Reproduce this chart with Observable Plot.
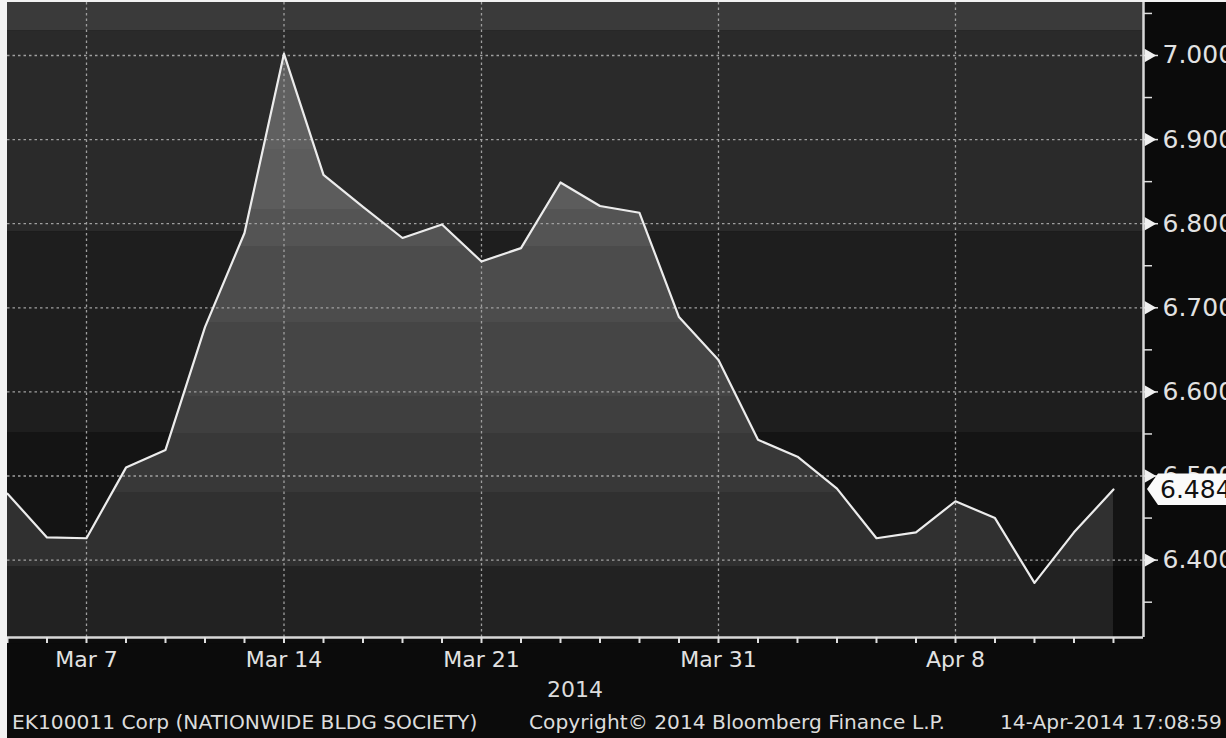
<!DOCTYPE html>
<html>
<head>
<meta charset="utf-8">
<script src="https://cdn.jsdelivr.net/npm/d3@7"></script>
<script src="https://cdn.jsdelivr.net/npm/@observablehq/plot@0.6"></script>
<style>
  html, body { margin: 0; padding: 0; background: #f2f2f2; width: 1226px; height: 738px; overflow: hidden; }
  #wrap { position: absolute; left: 7px; top: 2px; width: 1219px; height: 736px; background: #0b0b0b; overflow: hidden; font-family: "DejaVu Sans", sans-serif; color: #dcdcdc; }
  #chart { position: absolute; left: 0; top: 0; }
  .t { position: absolute; white-space: nowrap; color: #dcdcdc; }
</style>
</head>
<body>
<div id="wrap">
  <div id="chart"></div>
  <div class="t" id="year" style="left:568px; top:675px; font-size:22px; transform:translateX(-50%);">2014</div>
  <div class="t" style="left:5px; top:708px; font-size:20.2px;">EK100011 Corp (NATIONWIDE BLDG SOCIETY)</div>
  <div class="t" style="left:522px; top:708px; font-size:20.2px;">Copyright© 2014 Bloomberg Finance L.P.</div>
  <div class="t" style="left:993px; top:708px; font-size:20.2px;">14-Apr-2014 17:08:59</div>
</div>
<script>
// ---- data ----
const dates = ["2014-03-05","2014-03-06","2014-03-07","2014-03-10","2014-03-11","2014-03-12","2014-03-13","2014-03-14",
  "2014-03-17","2014-03-18","2014-03-19","2014-03-20","2014-03-21","2014-03-24","2014-03-25","2014-03-26","2014-03-27",
  "2014-03-28","2014-03-31","2014-04-01","2014-04-02","2014-04-03","2014-04-04","2014-04-07","2014-04-08","2014-04-09",
  "2014-04-10","2014-04-11","2014-04-14"];
const yields = [6.479,6.427,6.426,6.510,6.531,6.677,6.789,7.002,6.858,6.820,6.783,6.799,6.755,6.771,6.849,6.821,6.813,
  6.689,6.638,6.543,6.523,6.485,6.426,6.433,6.470,6.450,6.373,6.433,6.484];
const labelDates = ["2014-03-07","2014-03-14","2014-03-21","2014-03-31","2014-04-08"];
const labelTexts = ["Mar 7","Mar 14","Mar 21","Mar 31","Apr 8"];
const yTicks = [6.4,6.5,6.6,6.7,6.8,6.9,7.0];
const yMinorTicks = [6.35,6.45,6.55,6.65,6.75,6.85,6.95,7.05];
const lastValue = "6.484";

// background bands (value ranges) and shades
const bgBandLo = [7.029, 6.790, 6.551, 6.392, 6.30];
const bgBandHi = [7.07, 7.029, 6.790, 6.551, 6.392];
const bgBandColor = ["#3a3a3a", "#2a2a2a", "#1e1e1e", "#141414", "#0c0c0c"];
// area bands
const areaBandLo = [6.888, 6.817, 6.773, 6.682, 6.594, 6.551, 6.48, 6.392, 6.30];
const areaBandHi = [7.07, 6.888, 6.817, 6.773, 6.682, 6.594, 6.551, 6.48, 6.392];
const areaBandColor = ["#606060", "#5c5c5c", "#545454", "#4c4c4c", "#454545", "#3f3f3f", "#383838", "#303030", "#222222"];

const yDomain = [6.308, 7.063];
const xDomain = [0, 28.76];

const data = dates.map((d, i) => ({i, date: d, value: yields[i]}));
const labelIndex = labelDates.map(d => dates.indexOf(d));
const labelOf = new Map(labelIndex.map((k, j) => [k, labelTexts[j]]));
const bgBands = bgBandLo.map((lo, j) => ({lo, hi: bgBandHi[j], c: bgBandColor[j]}));

const W = 1219, mR = 83, mB = 45, H = 635 + mB;

const lastBox = (index, scales, values, dimensions) => {
  const g = d3.create("svg:g");
  const yv = scales.y(yields[yields.length - 1]);
  const ax = dimensions.width - dimensions.marginRight;
  const x0 = ax + 4, x1 = ax + 15, x2 = dimensions.width + 5;
  g.append("path")
    .attr("d", `M${x0},${yv} L${x1},${yv - 15.5} L${x2},${yv - 15.5} L${x2},${yv + 16} L${x1},${yv + 16} Z`)
    .attr("fill", "#fafafa");
  g.append("text")
    .attr("x", x1 + 2).attr("y", yv).attr("dy", "0.36em")
    .attr("text-anchor", "start")
    .attr("fill", "#111").attr("font-size", 25).attr("font-family", "DejaVu Sans, sans-serif")
    .text(lastValue);
  return g.node();
};

const chart = Plot.plot({
  width: W, height: H,
  marginLeft: 0, marginRight: mR, marginTop: 0, marginBottom: mB,
  style: {background: "transparent", color: "#e2e2e2", fontFamily: "DejaVu Sans, sans-serif"},
  x: {type: "linear", domain: xDomain},
  y: {domain: yDomain},
  marks: [
    Plot.rect(bgBands, {y1: "lo", y2: "hi", fill: "c"}),
    Plot.areaY(data, {x: "i", y1: () => yDomain[0], y2: "value", fill: "url(#areaGrad)"}),
    Plot.ruleY(yTicks, {stroke: "#a0a0a0", strokeWidth: 1.3, strokeDasharray: "2.5,3"}),
    Plot.ruleX(labelIndex, {stroke: "#a0a0a0", strokeWidth: 1.3, strokeDasharray: "2.5,3"}),
    Plot.line(data, {x: "i", y: "value", stroke: "#ececec", strokeWidth: 2.2}),
    Plot.ruleY([yDomain[0]], {stroke: "#d8d8d8", strokeWidth: 2.5}),
    Plot.ruleX([xDomain[1]], {stroke: "#d8d8d8", strokeWidth: 2.5}),
    Plot.axisX(d3.range(dates.length), {anchor: "bottom", label: null, tickSize: 6, tickPadding: 8, fontSize: 22,
      tickFormat: i => labelOf.get(i) ?? "", stroke: "#e0e0e0", strokeWidth: 2}),
    Plot.axisY(yMinorTicks, {anchor: "right", label: null, tickSize: 8, tickFormat: () => "", stroke: "#e0e0e0", strokeWidth: 1.5}),
    Plot.axisY(yTicks, {anchor: "right", label: null, tickSize: 14, tickPadding: 5, fontSize: 25,
      tickFormat: d3.format(".3f"), stroke: "#e0e0e0", strokeWidth: 1.5}),
    Plot.dot(yTicks, {y: d => d, frameAnchor: "right", symbol: "triangle", r: 5, rotate: 90, dx: 5, fill: "#f0f0f0", stroke: "none"}),
    lastBox
  ]
});

// banded gradient for the area, positioned with the y scale
const ys = chart.scale("y");
const yTop = ys.apply(yDomain[1]), yBot = ys.apply(yDomain[0]);
const off = v => Math.max(0, Math.min(1, (ys.apply(v) - yTop) / (yBot - yTop)));
const defs = d3.select(chart).insert("defs", ":first-child");
const grad = defs.append("linearGradient").attr("id", "areaGrad")
  .attr("gradientUnits", "userSpaceOnUse")
  .attr("x1", 0).attr("x2", 0).attr("y1", yTop).attr("y2", yBot);
areaBandLo.forEach((lo, j) => {
  grad.append("stop").attr("offset", off(areaBandHi[j])).attr("stop-color", areaBandColor[j]);
  grad.append("stop").attr("offset", off(lo)).attr("stop-color", areaBandColor[j]);
});

document.getElementById("chart").appendChild(chart);
</script>
</body>
</html>
